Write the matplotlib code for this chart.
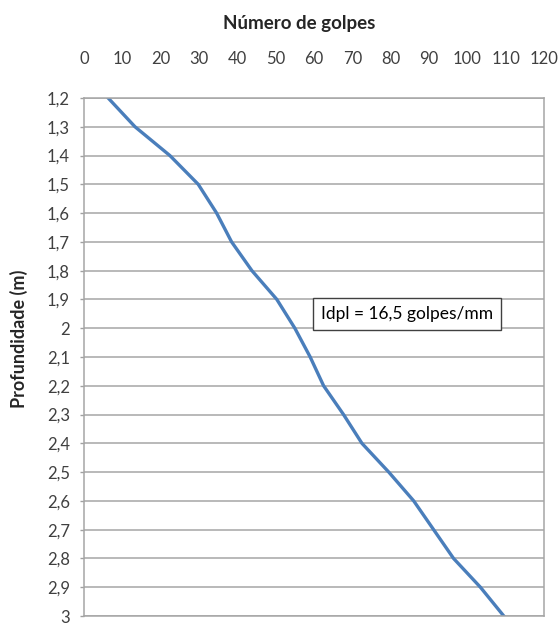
import numpy as np
import matplotlib.pyplot as plt

plt.rcParams['font.family'] = ['Lato', 'DejaVu Sans']

# leitura do ensaio DPL
profundidade = [1.2, 1.3, 1.4, 1.5, 1.6, 1.7, 1.8, 1.9, 2.0, 2.1,
                2.2, 2.3, 2.4, 2.5, 2.6, 2.7, 2.8, 2.9, 3.0]
golpes = [6.3, 13.3, 22.4, 29.8, 34.6, 38.5, 43.8, 50.3, 55.0, 59.0,
          62.5, 67.7, 72.5, 79.5, 86.0, 91.2, 96.4, 103.4, 109.5]

x_ticks = list(range(0, 121, 10))
y_ticks = [1.2, 1.3, 1.4, 1.5, 1.6, 1.7, 1.8, 1.9, 2.0, 2.1,
           2.2, 2.3, 2.4, 2.5, 2.6, 2.7, 2.8, 2.9, 3.0]
y_labels = ['1,2', '1,3', '1,4', '1,5', '1,6', '1,7', '1,8', '1,9', '2', '2,1',
            '2,2', '2,3', '2,4', '2,5', '2,6', '2,7', '2,8', '2,9', '3']

fig = plt.figure(figsize=(5.58, 6.24), dpi=100)
ax = fig.add_axes([0.1505, 0.0128, 0.8245, 0.8302])

ax.plot(golpes, profundidade, color='#4a7ebb', linewidth=2.4)

ax.set_xlim(0, 120)
ax.set_ylim(3.0, 1.2)
ax.xaxis.tick_top()
ax.xaxis.set_label_position('top')
ax.set_xticks(x_ticks)
ax.set_yticks(y_ticks)
ax.set_yticklabels(y_labels)
ax.tick_params(axis='x', length=0, pad=22, labelsize=12, colors='#404040')
ax.tick_params(axis='y', length=3, width=1, color='#a0a0a0', pad=7,
               labelsize=12, labelcolor='#404040')

ax.yaxis.grid(True, color='#a6a6a6', linewidth=1.1)
ax.set_axisbelow(True)
for s in ax.spines.values():
    s.set_color('#a6a6a6')
    s.set_linewidth(1.1)

ax.set_xlabel('Número de golpes', fontsize=13.5, fontweight='bold',
              color='#262626')
ax.xaxis.set_label_coords(0.467, 1.134)
ax.set_ylabel('Profundidade (m)', fontsize=13, fontweight='bold',
              color='#262626')
ax.yaxis.set_label_coords(-0.122, 0.535)

ax.text(84.3, 1.95, 'Idpl = 16,5 golpes/mm', fontsize=12.5, ha='center',
        va='center', color='#000000',
        bbox=dict(boxstyle='square,pad=0.45', facecolor='white',
                  edgecolor='#404040', linewidth=1))

plt.savefig('out.png', dpi=100)
